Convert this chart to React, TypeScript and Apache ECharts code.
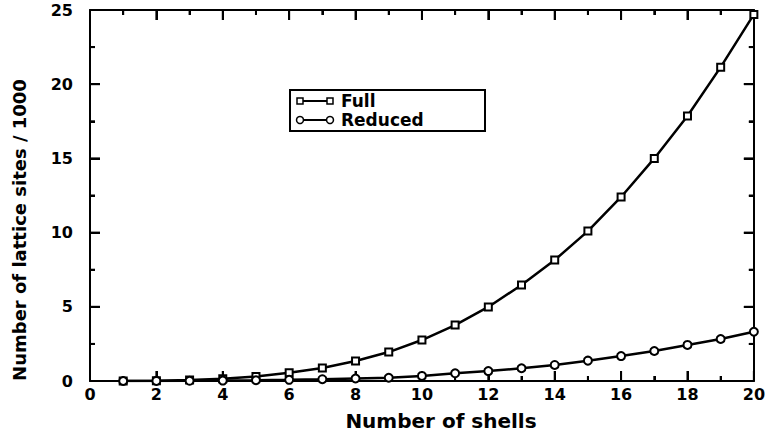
import React, { useEffect, useRef } from "react";
import * as echarts from "echarts";

const shells = [1, 2, 3, 4, 5, 6, 7, 8, 9, 10, 11, 12, 13, 14, 15, 16, 17, 18, 19, 20];
const fullSites = [0.005, 0.02, 0.07, 0.15, 0.3, 0.56, 0.88, 1.35, 1.95, 2.76, 3.77, 4.99, 6.47, 8.15, 10.1, 12.4, 15.0, 17.86, 21.15, 24.7];
const reducedSites = [0.001, 0.005, 0.015, 0.03, 0.05, 0.08, 0.12, 0.17, 0.22, 0.34, 0.52, 0.67, 0.86, 1.08, 1.37, 1.68, 2.02, 2.43, 2.83, 3.32];
const xTicks = { min: 0, max: 20, interval: 2 };
const yTicks = { min: 0, max: 25, interval: 5 };
const xMajorTicks = [0, 2, 4, 6, 8, 10, 12, 14, 16, 18, 20];
const xMinorTicks = [1, 3, 5, 7, 9, 11, 13, 15, 17, 19];
const yMajorTicks = [0, 5, 10, 15, 20, 25];
const yMinorTicks = [2.5, 7.5, 12.5, 17.5, 22.5];
const seriesNames = ["Full", "Reduced"];
const xTitle = "Number of shells";
const yTitle = "Number of lattice sites / 1000";

const FONT = "DejaVu Sans";
const MAJOR_LEN = 10;
const MINOR_LEN = 5;

export default function App() {
  const ref = useRef<HTMLDivElement>(null);
  useEffect(() => {
    const chart = echarts.init(ref.current!, null, { renderer: "svg" });
    const axisParts = (showLabel: boolean, margin: number) => ({
      axisLine: { show: true, onZero: false, lineStyle: { color: "#000", width: 2 } },
      axisTick: { show: true, inside: true, length: MAJOR_LEN, lineStyle: { color: "#000", width: 2 } },
      minorTick: { show: true, splitNumber: 2, length: MINOR_LEN, lineStyle: { color: "#000", width: 2 } },
      splitLine: { show: false },
      axisLabel: {
        show: showLabel,
        color: "#000",
        fontFamily: FONT,
        fontWeight: "bold",
        fontSize: 16,
        margin,
      },
    });
    const xAx = (pos: string, showLabel: boolean) => ({
      type: "value",
      position: pos,
      min: xTicks.min,
      max: xTicks.max,
      interval: xTicks.interval,
      ...axisParts(showLabel, 5),
    });
    const yAx = (pos: string, showLabel: boolean) => ({
      type: "value",
      position: pos,
      min: yTicks.min,
      max: yTicks.max,
      interval: yTicks.interval,
      ...axisParts(showLabel, 17),
    });
    const lineSeries = (name: string, vals: number[], symbol: string, size: number) => ({
      type: "line",
      name,
      xAxisIndex: 0,
      yAxisIndex: 0,
      data: shells.map((s, i) => [s, vals[i]]),
      symbol,
      symbolSize: size,
      showAllSymbol: true,
      lineStyle: { color: "#000", width: 2.5 },
      itemStyle: { color: "#000", borderColor: "#000", borderWidth: 1.5 },
    });
    const xTickData = [
      ...xMajorTicks.map((v) => [v, yTicks.min, 1]),
      ...xMinorTicks.map((v) => [v, yTicks.min, 0]),
    ];
    const yTickData = [
      ...yMajorTicks.map((v) => [xTicks.min, v, 1]),
      ...yMinorTicks.map((v) => [xTicks.min, v, 0]),
    ];
    const xTickSeries = {
      type: "custom",
      xAxisIndex: 0,
      yAxisIndex: 0,
      data: xTickData,
      renderItem: (params: any, api: any) => {
        const v = api.value(0);
        const len = api.value(2) ? MAJOR_LEN : MINOR_LEN;
        const b = api.coord([v, yTicks.min]);
        const t = api.coord([v, yTicks.max]);
        return {
          type: "group",
          children: [
            { type: "line", shape: { x1: b[0], y1: b[1], x2: b[0], y2: b[1] - len }, style: { stroke: "#000", lineWidth: 2 } },
            { type: "line", shape: { x1: t[0], y1: t[1], x2: t[0], y2: t[1] + len }, style: { stroke: "#000", lineWidth: 2 } },
          ],
        };
      },
    };
    const yTickSeries = {
      type: "custom",
      xAxisIndex: 0,
      yAxisIndex: 0,
      data: yTickData,
      renderItem: (params: any, api: any) => {
        const v = api.value(1);
        const len = api.value(2) ? MAJOR_LEN : MINOR_LEN;
        const l = api.coord([xTicks.min, v]);
        const r = api.coord([xTicks.max, v]);
        return {
          type: "group",
          children: [
            { type: "line", shape: { x1: l[0], y1: l[1], x2: l[0] + len, y2: l[1] }, style: { stroke: "#000", lineWidth: 2 } },
            { type: "line", shape: { x1: r[0], y1: r[1], x2: r[0] - len, y2: r[1] }, style: { stroke: "#000", lineWidth: 2 } },
          ],
        };
      },
    };
    const R1 = 101;
    const R2 = 120;
    const legendText = (txt: string, y: number) => ({
      type: "text",
      x: 341,
      y,
      z: 12,
      style: {
        text: txt,
        fill: "#000",
        font: `bold 17px "${FONT}"`,
        verticalAlign: "middle",
      },
    });
    const lz = 12;
    chart.setOption({
      animation: false,
      grid: { left: 90, right: 8, top: 10, bottom: 58 },
      xAxis: [xAx("bottom", true), xAx("top", false)],
      yAxis: [yAx("left", true), yAx("right", false)],
      series: [
        lineSeries(seriesNames[0], fullSites, "emptyRect", 7),
        lineSeries(seriesNames[1], reducedSites, "emptyCircle", 8),
        xTickSeries,
        yTickSeries,
      ],
      graphic: [
        {
          type: "text",
          x: 441,
          y: 421,
          style: {
            text: xTitle,
            fill: "#000",
            font: `bold 20px "${FONT}"`,
            align: "center",
            verticalAlign: "middle",
          },
        },
        {
          type: "text",
          x: 19,
          y: 230,
          rotation: Math.PI / 2,
          style: {
            text: yTitle,
            fill: "#000",
            font: `bold 18px "${FONT}"`,
            align: "center",
            verticalAlign: "middle",
          },
        },
        {
          type: "rect",
          z: 10,
          shape: { x: 290, y: 90, width: 195, height: 41 },
          style: { fill: "#fff", stroke: "#000", lineWidth: 2 },
        },
        { type: "line", z: lz, shape: { x1: 300, y1: R1, x2: 330, y2: R1 }, style: { stroke: "#000", lineWidth: 2 } },
        { type: "rect", z: lz, shape: { x: 297, y: R1 - 3, width: 6, height: 6 }, style: { fill: "#fff", stroke: "#000", lineWidth: 1.5 } },
        { type: "rect", z: lz, shape: { x: 327, y: R1 - 3, width: 6, height: 6 }, style: { fill: "#fff", stroke: "#000", lineWidth: 1.5 } },
        { type: "line", z: lz, shape: { x1: 300, y1: R2, x2: 330, y2: R2 }, style: { stroke: "#000", lineWidth: 2 } },
        { type: "circle", z: lz, shape: { cx: 300, cy: R2, r: 3.5 }, style: { fill: "#fff", stroke: "#000", lineWidth: 1.5 } },
        { type: "circle", z: lz, shape: { cx: 330, cy: R2, r: 3.5 }, style: { fill: "#fff", stroke: "#000", lineWidth: 1.5 } },
        legendText(seriesNames[0], R1),
        legendText(seriesNames[1], R2),
      ],
    });
    return () => chart.dispose();
  }, []);
  return (
    <div
      ref={ref}
      style={{ position: "fixed", left: 0, top: 0, width: 768, height: 439, background: "#fff" }}
    />
  );
}
